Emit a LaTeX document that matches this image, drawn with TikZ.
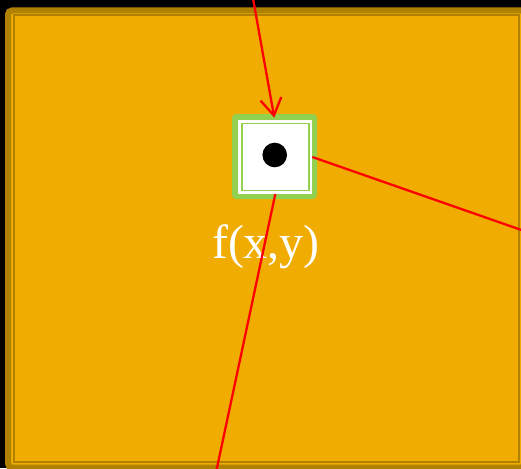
\documentclass[tikz,border=0pt]{standalone}
\usepackage{fontspec}
\setmainfont{Liberation Serif}
\usepackage{tikz}
\usetikzlibrary{arrows.meta, calc}

\definecolor{frameorange}{HTML}{F0AC00}
\definecolor{framedark}{HTML}{B08000}
\definecolor{cellgreen}{HTML}{92D050}

\begin{document}
\begin{tikzpicture}[x=1pt, y=-1pt,
    pad/.style={rectangle, fill=cellgreen, rounded corners=4pt, minimum size=85pt, inner sep=0pt},
    cell/.style={rectangle, draw=cellgreen, line width=1.5pt, fill=white, minimum size=67pt, inner sep=0pt, outer sep=3.5pt, preaction={draw=white, line width=7pt}},
    dot/.style={circle, fill=black, minimum size=24.6pt, inner sep=0pt},
    wire/.style={draw=red, line width=2.3pt},
    arrow/.style={wire, -{Straight Barb[length=17pt, width=21pt]}}
]
\useasboundingbox (0,0) rectangle (521,468);
\clip (0,0) rectangle (521,468);
\fill[black] (0,0) rectangle (521,468);

% orange frame with double border
\draw[framedark, line width=6pt, fill=frameorange, rounded corners=4pt] (8,10.5) rectangle (525,467.5);
\draw[framedark, line width=1.5pt] (14,15) rectangle (519,462);

\node[pad] (pad) at (274.5,156.5) {};
\node[cell] (cell) at (275.3,157) {};
\node[dot] (pin) at (274.7,155) {};
\node[font=\fontsize{48}{50}\selectfont, text=white, anchor=base, inner sep=0pt] (fxy) at (266,258) {f(x,y)};

\coordinate (top) at (252.4,-5);
\coordinate (eastend) at (530,233);
\coordinate (southend) at (214.4,480);

\draw[arrow] (top) -- ($(cell.north)+(-1,-2.3)$);
\draw[wire] (cell.east) -- (eastend);
\draw[wire] (cell.south) -- (southend);
\end{tikzpicture}
\end{document}
